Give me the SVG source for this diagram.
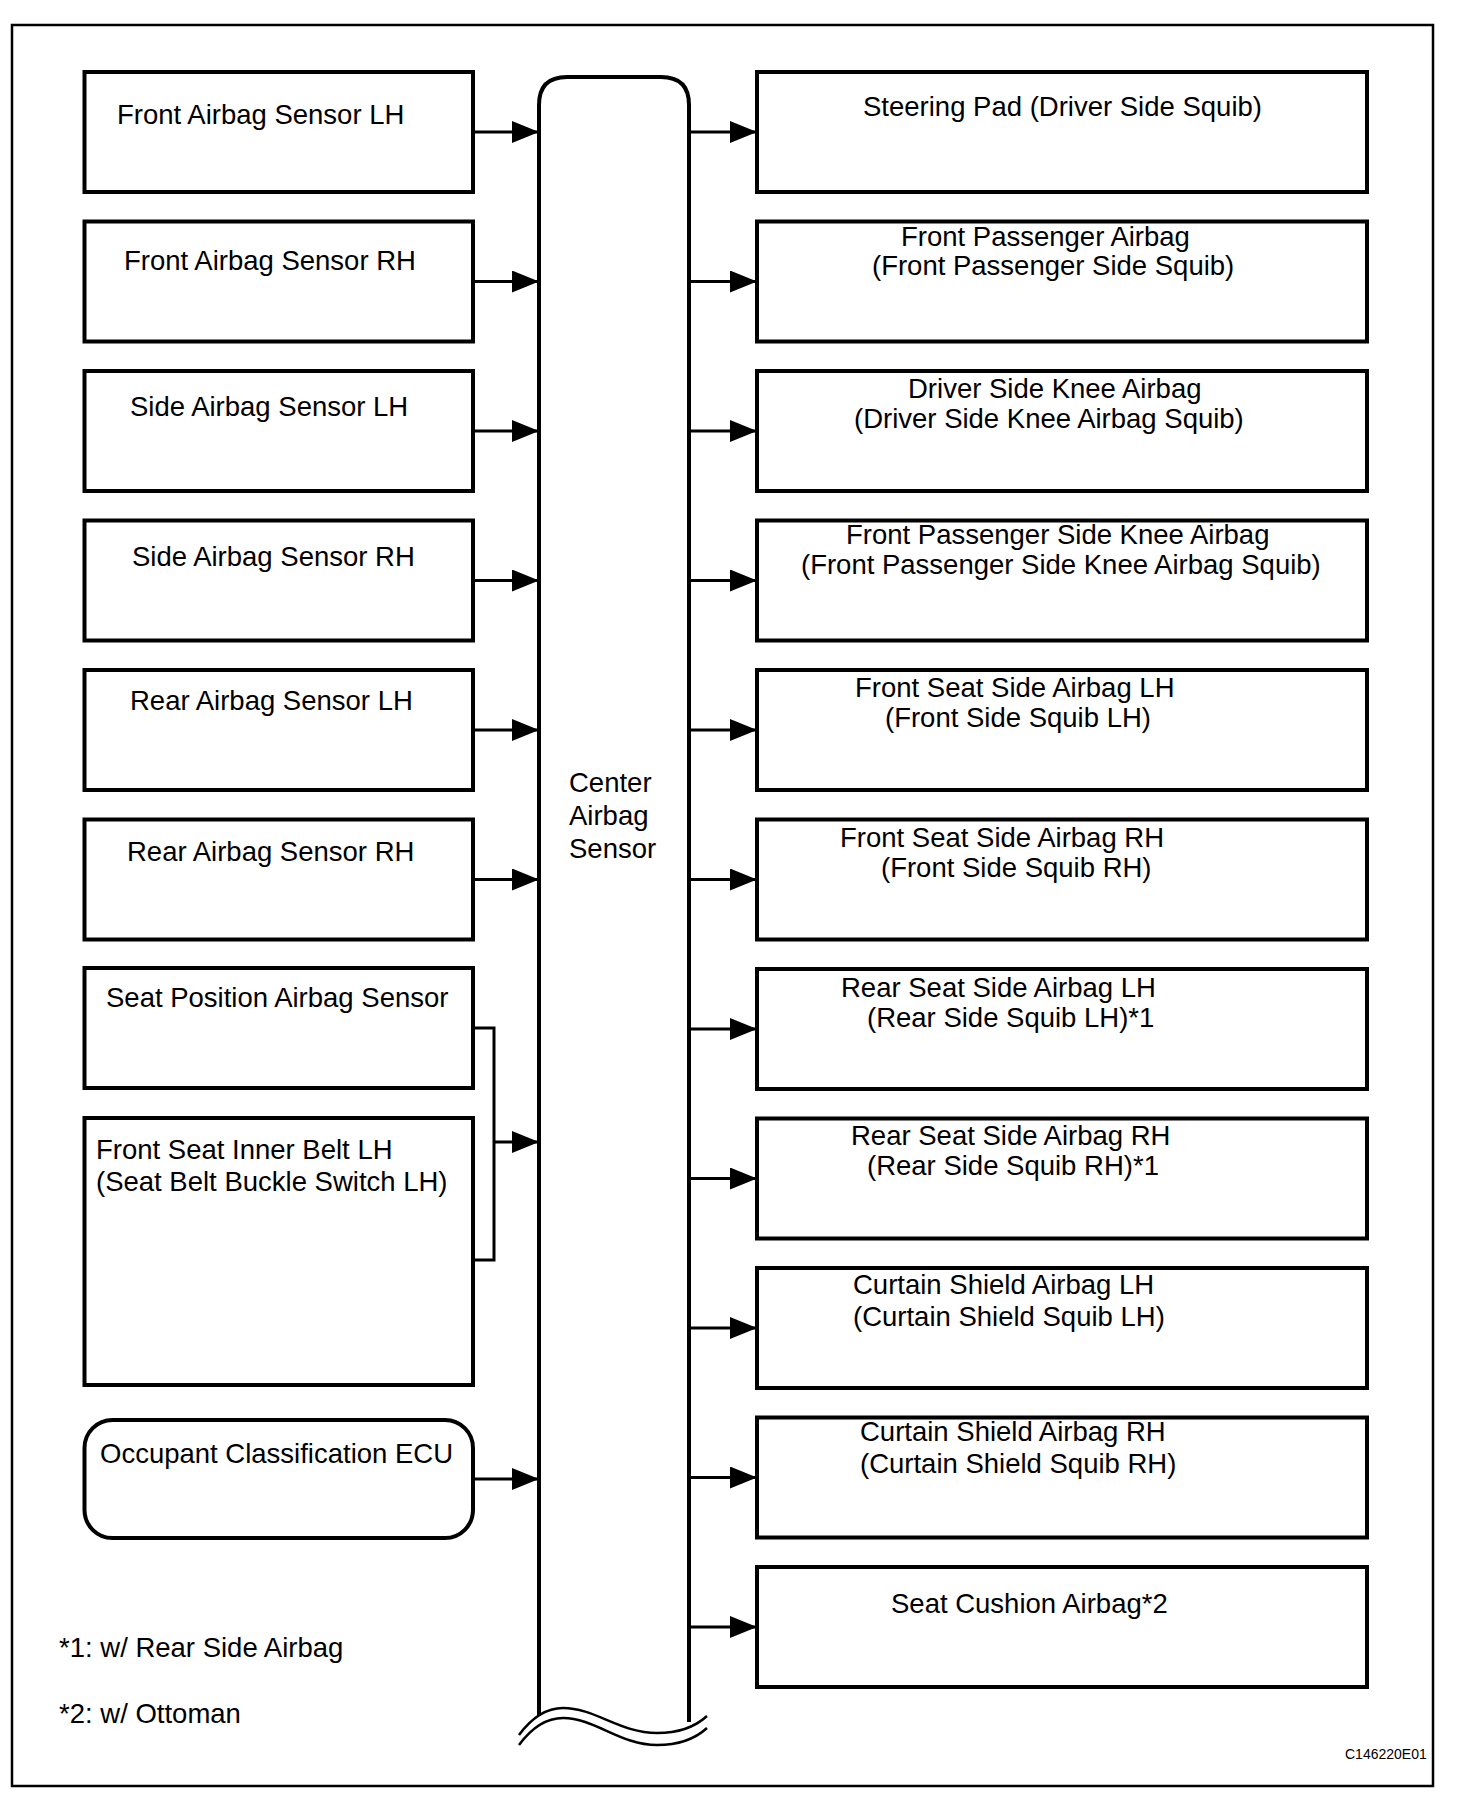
<svg xmlns="http://www.w3.org/2000/svg" width="1472" height="1802" viewBox="0 0 1472 1802">
<defs>
<marker id="arr" markerUnits="userSpaceOnUse" markerWidth="28" markerHeight="24" refX="27" refY="11" orient="auto">
<path d="M0,0 L27,11 L0,22 Z" fill="#000"/>
</marker>
<style>
.box{fill:#fff;stroke:#000;stroke-width:4}
.t{font-family:"Liberation Sans",Arial,sans-serif;font-size:27.5px;fill:#000}
.c{fill:none;stroke:#000;stroke-width:3}
.a{fill:none;stroke:#000;stroke-width:3;marker-end:url(#arr)}
</style>
</defs>
<rect x="0" y="0" width="1472" height="1802" fill="#fff"/>
<rect id="frame" x="12" y="25" width="1421" height="1761" fill="none" stroke="#000" stroke-width="2.5"/>

<g id="center-airbag-sensor">
<path d="M539,1716 V105 Q539,77 567,77 H661 Q689,77 689,105 V1722" fill="none" stroke="#000" stroke-width="4"/>
<path d="M519,1735 C533,1716 548,1708 563,1708 C595,1708 620,1733 657,1733 C680,1733 695,1727 707,1716" fill="none" stroke="#000" stroke-width="2.5"/>
<path d="M519,1745 C533,1726 548,1718 563,1718 C595,1718 620,1745 657,1745 C680,1745 695,1739 707,1728" fill="none" stroke="#000" stroke-width="2.5"/>
<text class="t" x="569" y="792">Center</text>
<text class="t" x="569" y="825">Airbag</text>
<text class="t" x="569" y="858">Sensor</text>
</g>

<g id="front-airbag-sensor-lh"><rect class="box" x="84.5" y="72" width="388.5" height="120"/><text class="t" x="117" y="124">Front Airbag Sensor LH</text></g>
<g id="front-airbag-sensor-rh"><rect class="box" x="84.5" y="221.5" width="388.5" height="120"/><text class="t" x="124" y="270">Front Airbag Sensor RH</text></g>
<g id="side-airbag-sensor-lh"><rect class="box" x="84.5" y="371" width="388.5" height="120"/><text class="t" x="130" y="416">Side Airbag Sensor LH</text></g>
<g id="side-airbag-sensor-rh"><rect class="box" x="84.5" y="520.5" width="388.5" height="120"/><text class="t" x="132" y="566">Side Airbag Sensor RH</text></g>
<g id="rear-airbag-sensor-lh"><rect class="box" x="84.5" y="670" width="388.5" height="120"/><text class="t" x="130" y="710">Rear Airbag Sensor LH</text></g>
<g id="rear-airbag-sensor-rh"><rect class="box" x="84.5" y="819.5" width="388.5" height="120"/><text class="t" x="127" y="861">Rear Airbag Sensor RH</text></g>
<g id="seat-position-airbag-sensor"><rect class="box" x="84.5" y="968" width="388.5" height="120"/><text class="t" x="106" y="1007">Seat Position Airbag Sensor</text></g>
<g id="front-seat-inner-belt-lh"><rect class="box" x="84.5" y="1118" width="388.5" height="267"/><text class="t" x="96" y="1159">Front Seat Inner Belt LH</text><text class="t" x="96" y="1191">(Seat Belt Buckle Switch LH)</text></g>
<g id="occupant-classification-ecu"><rect class="box" x="84.5" y="1420" width="388.5" height="118" rx="28" ry="28"/><text class="t" x="100" y="1463">Occupant Classification ECU</text></g>

<g id="steering-pad"><rect class="box" x="757" y="72" width="610" height="120"/><text class="t" x="863" y="116">Steering Pad (Driver Side Squib)</text></g>
<g id="front-passenger-airbag"><rect class="box" x="757" y="221.5" width="610" height="120"/><text class="t" x="901" y="246">Front Passenger Airbag</text><text class="t" x="872" y="275">(Front Passenger Side Squib)</text></g>
<g id="driver-side-knee-airbag"><rect class="box" x="757" y="371" width="610" height="120"/><text class="t" x="908" y="398">Driver Side Knee Airbag</text><text class="t" x="854" y="428">(Driver Side Knee Airbag Squib)</text></g>
<g id="front-passenger-side-knee-airbag"><rect class="box" x="757" y="520.5" width="610" height="120"/><text class="t" x="846" y="544">Front Passenger Side Knee Airbag</text><text class="t" x="801" y="574">(Front Passenger Side Knee Airbag Squib)</text></g>
<g id="front-seat-side-airbag-lh"><rect class="box" x="757" y="670" width="610" height="120"/><text class="t" x="855" y="697">Front Seat Side Airbag LH</text><text class="t" x="885" y="727">(Front Side Squib LH)</text></g>
<g id="front-seat-side-airbag-rh"><rect class="box" x="757" y="819.5" width="610" height="120"/><text class="t" x="840" y="847">Front Seat Side Airbag RH</text><text class="t" x="881" y="877">(Front Side Squib RH)</text></g>
<g id="rear-seat-side-airbag-lh"><rect class="box" x="757" y="969" width="610" height="120"/><text class="t" x="841" y="997">Rear Seat Side Airbag LH</text><text class="t" x="867" y="1027">(Rear Side Squib LH)*1</text></g>
<g id="rear-seat-side-airbag-rh"><rect class="box" x="757" y="1118.5" width="610" height="120"/><text class="t" x="851" y="1145">Rear Seat Side Airbag RH</text><text class="t" x="867" y="1175">(Rear Side Squib RH)*1</text></g>
<g id="curtain-shield-airbag-lh"><rect class="box" x="757" y="1268" width="610" height="120"/><text class="t" x="853" y="1294">Curtain Shield Airbag LH</text><text class="t" x="853" y="1326">(Curtain Shield Squib LH)</text></g>
<g id="curtain-shield-airbag-rh"><rect class="box" x="757" y="1417.5" width="610" height="120"/><text class="t" x="860" y="1441">Curtain Shield Airbag RH</text><text class="t" x="860" y="1473">(Curtain Shield Squib RH)</text></g>
<g id="seat-cushion-airbag"><rect class="box" x="757" y="1567" width="610" height="120"/><text class="t" x="891" y="1613">Seat Cushion Airbag*2</text></g>

<g id="connectors">
<line class="a" x1="475" y1="132" x2="539" y2="132"/>
<line class="a" x1="475" y1="281.5" x2="539" y2="281.5"/>
<line class="a" x1="475" y1="431" x2="539" y2="431"/>
<line class="a" x1="475" y1="580.5" x2="539" y2="580.5"/>
<line class="a" x1="475" y1="730" x2="539" y2="730"/>
<line class="a" x1="475" y1="879.5" x2="539" y2="879.5"/>
<path class="c" d="M475,1028 H494 V1260 H475" stroke-width="2.5"/>
<line class="a" x1="494" y1="1142" x2="539" y2="1142"/>
<line class="a" x1="475" y1="1479" x2="539" y2="1479"/>
<line class="a" x1="691" y1="132" x2="757" y2="132"/>
<line class="a" x1="691" y1="281.5" x2="757" y2="281.5"/>
<line class="a" x1="691" y1="431" x2="757" y2="431"/>
<line class="a" x1="691" y1="580.5" x2="757" y2="580.5"/>
<line class="a" x1="691" y1="730" x2="757" y2="730"/>
<line class="a" x1="691" y1="879.5" x2="757" y2="879.5"/>
<line class="a" x1="691" y1="1029" x2="757" y2="1029"/>
<line class="a" x1="691" y1="1178.5" x2="757" y2="1178.5"/>
<line class="a" x1="691" y1="1328" x2="757" y2="1328"/>
<line class="a" x1="691" y1="1477.5" x2="757" y2="1477.5"/>
<line class="a" x1="691" y1="1627" x2="757" y2="1627"/>
</g>

<g id="notes">
<text class="t" x="59" y="1657">*1: w/ Rear Side Airbag</text>
<text class="t" x="59" y="1723">*2: w/ Ottoman</text>
<text x="1345" y="1759" style="font-family:'Liberation Sans',Arial,sans-serif;font-size:14px">C146220E01</text>
</g>
</svg>
